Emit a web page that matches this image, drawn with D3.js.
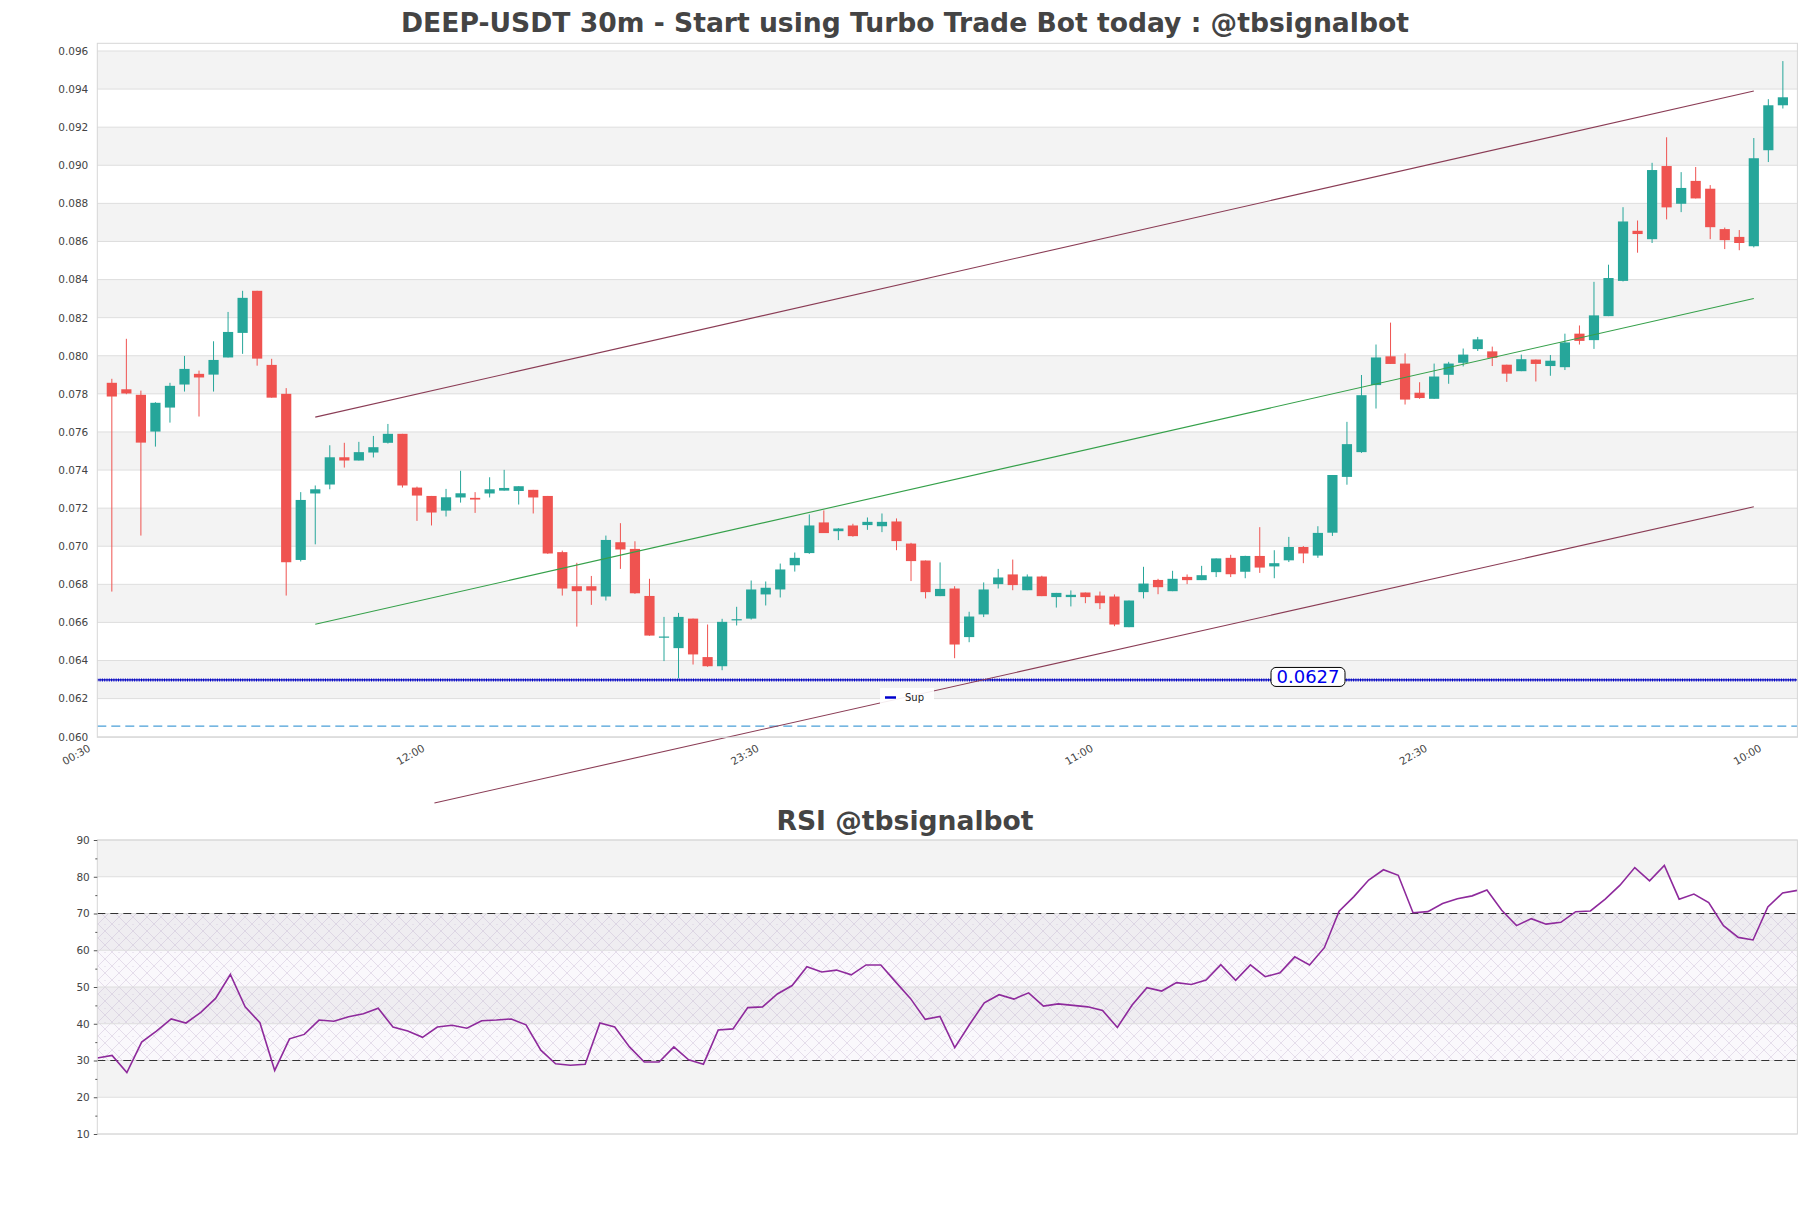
<!DOCTYPE html>
<html>
<head>
<meta charset="utf-8">
<script src="https://cdn.jsdelivr.net/npm/d3@7"></script>
<style>
  html, body { margin: 0; padding: 0; background: #ffffff; }
  svg { display: block; }
  text { font-family: "DejaVu Sans", sans-serif; }
</style>
</head>
<body>
<svg id="chart" width="1811" height="1208"></svg>
<script>
// ---------------- DATA ----------------
const chartTitle = "DEEP-USDT 30m - Start using Turbo Trade Bot today : @tbsignalbot";
const rsiTitle = "RSI @tbsignalbot";

const opens = [0.07858,0.07824,0.07795,0.07602,0.07728,0.07849,0.07905,0.07901,0.07991,0.0812,
0.08341,0.07952,0.078,0.06928,0.07277,0.07324,0.07467,0.0745,0.07492,0.07543,
0.0759,0.07308,0.07264,0.07187,0.07256,0.07254,0.07277,0.07292,0.0729,0.07296,
0.07264,0.06969,0.0679,0.0679,0.06736,0.07021,0.06986,0.06739,0.06522,0.06465,
0.0662,0.06418,0.0637,0.06612,0.0662,0.06747,0.06773,0.069,0.06964,0.07125,
0.07079,0.07109,0.07111,0.07105,0.0713,0.07014,0.06925,0.06738,0.06778,0.06523,
0.06642,0.06801,0.06852,0.06769,0.06841,0.06733,0.06733,0.06757,0.06741,0.06736,
0.06575,0.06759,0.06823,0.06764,0.06839,0.06822,0.06864,0.06939,0.06866,0.06949,
0.06894,0.06926,0.06996,0.06951,0.07071,0.07364,0.07494,0.07846,0.07997,0.07959,
0.07806,0.07774,0.079,0.07963,0.08035,0.08023,0.07953,0.07919,0.0798,0.07946,
0.0794,0.08116,0.08082,0.08208,0.08393,0.08656,0.08612,0.08996,0.08798,0.08918,
0.08877,0.08665,0.08624,0.08575,0.09079,0.09315];
const highs = [0.07879,0.08089,0.07817,0.07756,0.07858,0.07999,0.07922,0.08076,0.0823,0.08341,
0.08341,0.07984,0.0783,0.07284,0.07319,0.0753,0.07543,0.07548,0.07579,0.07642,
0.0759,0.07313,0.07264,0.07301,0.07396,0.07284,0.07362,0.07401,0.07315,0.07296,
0.07264,0.06977,0.06913,0.06844,0.07056,0.07121,0.07026,0.06829,0.06629,0.0665,
0.0662,0.06589,0.06619,0.06682,0.0682,0.06815,0.06909,0.06967,0.07167,0.07188,
0.07095,0.07118,0.07151,0.07172,0.07146,0.07018,0.06925,0.06915,0.0679,0.06656,
0.0681,0.06881,0.0693,0.06852,0.06845,0.06755,0.06768,0.06757,0.06762,0.06747,
0.06715,0.06892,0.06829,0.06871,0.06852,0.06897,0.06936,0.06955,0.0695,0.071,
0.06979,0.07049,0.07001,0.07105,0.07374,0.07653,0.07899,0.08059,0.08174,0.08012,
0.07861,0.07959,0.07968,0.08038,0.08099,0.08048,0.07953,0.08006,0.0798,0.08004,
0.08116,0.08159,0.08388,0.08478,0.0878,0.0871,0.09013,0.09147,0.08964,0.08991,
0.08896,0.08673,0.0866,0.09143,0.09347,0.09547];
const lows = [0.06762,0.07798,0.07056,0.07523,0.07649,0.07812,0.07681,0.07812,0.07991,0.0801,
0.07948,0.0778,0.06741,0.0692,0.0701,0.07299,0.07413,0.0745,0.07466,0.07539,
0.07308,0.07133,0.07109,0.07156,0.07229,0.07175,0.07256,0.07292,0.07219,0.07172,
0.0696,0.06741,0.06578,0.06692,0.06715,0.06881,0.0675,0.0653,0.06397,0.06306,
0.06379,0.06367,0.06349,0.06584,0.06615,0.06689,0.06731,0.06867,0.0696,0.0707,
0.07032,0.0705,0.07086,0.07074,0.06979,0.06817,0.06726,0.06738,0.06412,0.06496,
0.06628,0.06778,0.06769,0.06769,0.06738,0.06678,0.06684,0.06701,0.0667,0.0658,
0.06575,0.06726,0.06748,0.06764,0.06801,0.06822,0.06838,0.06838,0.06832,0.0686,
0.06832,0.06917,0.06911,0.06939,0.07054,0.07323,0.0749,0.07723,0.07957,0.07744,
0.07774,0.07774,0.07853,0.07944,0.08025,0.07946,0.07863,0.07919,0.07865,0.07895,
0.07925,0.08059,0.08036,0.08208,0.0839,0.08541,0.08592,0.08716,0.08754,0.08826,
0.08612,0.0856,0.08554,0.08569,0.09017,0.09298];
const closes = [0.07786,0.07802,0.07544,0.07753,0.07842,0.07931,0.07886,0.07978,0.08125,0.08304,
0.07985,0.0778,0.06916,0.07243,0.07299,0.07467,0.0745,0.07494,0.0752,0.0759,
0.07319,0.07266,0.07177,0.07257,0.07278,0.07245,0.07299,0.07306,0.07315,0.07256,
0.06962,0.06778,0.06764,0.06767,0.07033,0.06983,0.06753,0.06531,0.06526,0.06629,
0.06432,0.0637,0.06603,0.06617,0.06773,0.06782,0.06878,0.06939,0.07109,0.07069,
0.07093,0.07053,0.07128,0.07128,0.07027,0.06922,0.06759,0.06776,0.06484,0.06631,
0.06773,0.06836,0.06796,0.06841,0.06738,0.06755,0.06745,0.06733,0.06701,0.06589,
0.06715,0.06804,0.06785,0.06829,0.06822,0.06848,0.06936,0.06853,0.06949,0.06888,
0.06911,0.06996,0.06962,0.0707,0.07374,0.07536,0.07793,0.07991,0.07957,0.0777,
0.07778,0.07891,0.07959,0.08006,0.08086,0.07989,0.07906,0.07982,0.07957,0.07974,
0.0807,0.08078,0.08212,0.08408,0.08705,0.08639,0.08975,0.08779,0.08881,0.08826,
0.08675,0.08607,0.08592,0.09037,0.09315,0.09357];

const rsiValues = [30.7,31.4,26.7,35.0,38.0,41.3,40.2,43.1,46.9,53.4,
44.6,40.3,27.3,35.9,37.1,41.0,40.7,41.9,42.7,44.2,
39.1,38.0,36.3,39.1,39.6,38.8,40.8,41.0,41.3,39.7,
32.8,29.1,28.7,29.0,40.2,39.1,33.7,29.6,29.6,33.7,
30.2,29.0,38.3,38.6,44.4,44.6,48.1,50.4,55.5,54.1,
54.6,53.3,56.0,56.0,51.4,46.9,41.2,42.0,33.5,39.8,
45.7,47.9,46.7,48.4,44.8,45.4,45.0,44.6,43.6,39.0,
45.1,49.8,48.9,51.2,50.7,51.9,56.1,51.8,56.0,52.8,
53.85,58.2,56.0,60.7,70.65,74.6,79.1,81.9,80.4,70.2,
70.5,72.7,74.0,74.8,76.4,70.9,66.7,68.6,67.1,67.6,
70.5,70.7,73.9,77.7,82.5,78.9,83.1,73.9,75.3,73.0,
66.7,63.5,62.8,71.8,75.6,76.3];

const xTickLabels = ["00:30","12:00","23:30","11:00","22:30","10:00"];
const xTickIndex = [-1, 22, 45, 68, 91, 114];
const priceTicks = [0.060,0.062,0.064,0.066,0.068,0.070,0.072,0.074,0.076,0.078,0.080,0.082,0.084,0.086,0.088,0.090,0.092,0.094,0.096];
const rsiTicks = [10,20,30,40,50,60,70,80,90];
const rsiMinorTicks = [15,25,35,45,55,65,75,85];

// trend lines: [startIndex, startPrice, endIndex, endPrice]
const upperChannel = [14, 0.07678, 113, 0.09390];
const midChannel   = [14, 0.06590, 113, 0.08301];
const lowerChannel = [22.2, 0.05652, 113, 0.07207];

const supportLevel = 0.06298;
const supportLabel = "0.0627";
const supportName = "Sup";
const lowerLevel = 0.06056;
const rsiUpper = 70, rsiLower = 30;

// ---------------- LAYOUT ----------------
const svg = d3.select("#chart");
const W = 1811, H = 1208;
const main = {left: 97.3, right: 1797.4, top: 43.3, bottom: 737.3};
const rsiBox = {left: 97.3, right: 1797.4, top: 840, bottom: 1134};

const x = d3.scaleLinear().domain([-1, 116]).range([main.left, main.right]);
const y = d3.scaleLinear().domain([0.059969, 0.096404]).range([main.bottom, main.top]);
const xr = d3.scaleLinear().domain([0, rsiValues.length - 1]).range([rsiBox.left, rsiBox.right]);
const yr = d3.scaleLinear().domain([10, 90]).range([rsiBox.bottom, rsiBox.top]);

const upColor = "#26a69a", downColor = "#ef5350";
const bandColor = "#f3f3f3", gridColor = "#dedede", borderColor = "#d6d6d6";

svg.append("rect").attr("width", W).attr("height", H).attr("fill", "#fff");

// defs
const defs = svg.append("defs");
defs.append("clipPath").attr("id", "mainClip").append("rect")
  .attr("x", main.left).attr("y", main.top)
  .attr("width", main.right - main.left).attr("height", main.bottom - main.top);
const pat = defs.append("pattern").attr("id", "hatch").attr("patternUnits", "userSpaceOnUse")
  .attr("width", 14).attr("height", 14);
pat.append("path").attr("d", "M0,0 L14,14 M14,0 L0,14")
  .attr("stroke", "#b9a6c9").attr("stroke-width", 0.6).attr("fill", "none").attr("opacity", 0.55);
pat.append("circle").attr("cx", 7).attr("cy", 0).attr("r", 0.6).attr("fill", "#c5b5d2");

// ---------------- MAIN TITLE ----------------
svg.append("text").attr("x", 905).attr("y", 32).attr("text-anchor", "middle")
  .attr("font-size", 26.6).attr("font-weight", "bold").attr("fill", "#444")
  .text(chartTitle);

// ---------------- MAIN PANEL ----------------
const gMain = svg.append("g");
for (let i = 0; i < priceTicks.length - 1; i++) {
  if ((priceTicks.length - 2 - i) % 2 === 0) {
    gMain.append("rect").attr("x", main.left)
      .attr("y", y(priceTicks[i + 1])).attr("width", main.right - main.left)
      .attr("height", y(priceTicks[i]) - y(priceTicks[i + 1])).attr("fill", bandColor);
  }
}
gMain.selectAll("line.grid").data(priceTicks).join("line").attr("class", "grid")
  .attr("x1", main.left).attr("x2", main.right)
  .attr("y1", d => y(d)).attr("y2", d => y(d))
  .attr("stroke", gridColor).attr("stroke-width", 1);

const yAxis = d3.axisLeft(y).tickValues(priceTicks).tickFormat(d3.format(".3f")).tickSize(0).tickPadding(9);
const gy = svg.append("g").attr("transform", `translate(${main.left},0)`).call(yAxis);
gy.select(".domain").remove();
gy.selectAll("text").attr("font-size", 10.5).attr("fill", "#444").attr("font-family", "DejaVu Sans");

// candles
const candles = opens.map((o, i) => ({i, o, h: highs[i], l: lows[i], c: closes[i]}));
const bodyW = 10.2;
const gC = gMain.append("g").attr("clip-path", "url(#mainClip)");
gC.selectAll("line.wick").data(candles).join("line").attr("class", "wick")
  .attr("x1", d => x(d.i)).attr("x2", d => x(d.i))
  .attr("y1", d => y(d.h)).attr("y2", d => y(d.l))
  .attr("stroke", d => d.c >= d.o ? upColor : downColor).attr("stroke-width", 1);
gC.selectAll("rect.body").data(candles).join("rect").attr("class", "body")
  .attr("x", d => x(d.i) - bodyW / 2).attr("width", bodyW)
  .attr("y", d => y(Math.max(d.o, d.c)))
  .attr("height", d => Math.max(1.2, Math.abs(y(d.o) - y(d.c))))
  .attr("fill", d => d.c >= d.o ? upColor : downColor);

// support line & dashed level
svg.append("line").attr("x1", main.left).attr("x2", main.right)
  .attr("y1", y(lowerLevel)).attr("y2", y(lowerLevel))
  .attr("stroke", "#4a9fd8").attr("stroke-width", 1.3).attr("stroke-dasharray", "9,5");
svg.append("line").attr("x1", main.left).attr("x2", main.right)
  .attr("y1", y(supportLevel)).attr("y2", y(supportLevel))
  .attr("stroke", "#1010b0").attr("stroke-width", 1.2);
svg.append("line").attr("x1", main.left).attr("x2", main.right)
  .attr("y1", y(supportLevel)).attr("y2", y(supportLevel))
  .attr("stroke", "#0000cc").attr("stroke-width", 3).attr("stroke-dasharray", "1,1.3");

// trend lines (not clipped)
function trend(p, color) {
  svg.append("line").attr("x1", x(p[0])).attr("y1", y(p[1]))
    .attr("x2", x(p[2])).attr("y2", y(p[3]))
    .attr("stroke", color).attr("stroke-width", 1.1);
}
trend(upperChannel, "#8a3c55");
trend(midChannel, "#35a04a");
trend(lowerChannel, "#8a3c55");

// legend
const lg = svg.append("g").attr("transform", `translate(880,688)`);
lg.append("rect").attr("width", 54).attr("height", 17).attr("fill", "#fff").attr("opacity", 0.9);
lg.append("line").attr("x1", 5).attr("x2", 16).attr("y1", 9.5).attr("y2", 9.5)
  .attr("stroke", "#0000cc").attr("stroke-width", 2.5);
lg.append("text").attr("x", 25).attr("y", 13).attr("font-size", 10).attr("fill", "#222").text(supportName);

// support label box
const lbX = 1308, lbY = y(supportLevel) - 3;
const lb = svg.append("g").attr("transform", `translate(${lbX},${lbY})`);
lb.append("rect").attr("x", -37).attr("y", -9.5).attr("width", 74).attr("height", 19)
  .attr("rx", 5).attr("fill", "#fff").attr("stroke", "#000").attr("stroke-width", 1);
lb.append("text").attr("x", 0).attr("y", 6.5).attr("text-anchor", "middle")
  .attr("font-size", 18).attr("fill", "#0000ee").text(supportLabel);

// border
svg.append("rect").attr("x", main.left).attr("y", main.top)
  .attr("width", main.right - main.left).attr("height", main.bottom - main.top)
  .attr("fill", "none").attr("stroke", borderColor).attr("stroke-width", 1);

// x labels
const gx = svg.append("g");
xTickIndex.forEach((idx, k) => {
  gx.append("text").attr("transform", `translate(${x(idx) - 6},${main.bottom + 13}) rotate(-30)`)
    .attr("text-anchor", "end").attr("font-size", 10.5).attr("fill", "#444").text(xTickLabels[k]);
});

// ---------------- RSI PANEL ----------------
svg.append("text").attr("x", 905).attr("y", 830).attr("text-anchor", "middle")
  .attr("font-size", 26.6).attr("font-weight", "bold").attr("fill", "#444").text(rsiTitle);

const gR = svg.append("g");
for (let v = 20; v <= 80; v += 20) {
  gR.append("rect").attr("x", rsiBox.left).attr("y", yr(v + 10))
    .attr("width", rsiBox.right - rsiBox.left).attr("height", yr(v) - yr(v + 10)).attr("fill", bandColor);
}
gR.append("rect").attr("x", rsiBox.left).attr("y", yr(rsiUpper))
  .attr("width", rsiBox.right - rsiBox.left).attr("height", yr(rsiLower) - yr(rsiUpper))
  .attr("fill", "#d8c8e4").attr("opacity", 0.12);
gR.append("rect").attr("x", rsiBox.left).attr("y", yr(rsiUpper))
  .attr("width", rsiBox.right - rsiBox.left).attr("height", yr(rsiLower) - yr(rsiUpper))
  .attr("fill", "url(#hatch)");
gR.selectAll("line.grid").data(rsiTicks).join("line").attr("class", "grid")
  .attr("x1", rsiBox.left).attr("x2", rsiBox.right)
  .attr("y1", d => yr(d)).attr("y2", d => yr(d))
  .attr("stroke", gridColor).attr("stroke-width", 1);
[rsiUpper, rsiLower].forEach(v => {
  gR.append("line").attr("x1", rsiBox.left).attr("x2", rsiBox.right)
    .attr("y1", yr(v)).attr("y2", yr(v))
    .attr("stroke", "#333").attr("stroke-width", 1.1).attr("stroke-dasharray", "8,5");
});
gR.append("path").datum(rsiValues)
  .attr("d", d3.line().x((d, i) => xr(i)).y(d => yr(d)))
  .attr("fill", "none").attr("stroke", "#8e2a9c").attr("stroke-width", 1.6);
gR.append("rect").attr("x", rsiBox.left).attr("y", rsiBox.top)
  .attr("width", rsiBox.right - rsiBox.left).attr("height", rsiBox.bottom - rsiBox.top)
  .attr("fill", "none").attr("stroke", borderColor).attr("stroke-width", 1);

const ryAxis = d3.axisLeft(yr).tickValues(rsiTicks).tickSize(3.5).tickPadding(4);
const gry = svg.append("g").attr("transform", `translate(${rsiBox.left},0)`).call(ryAxis);
gry.select(".domain").remove();
gry.selectAll("line").attr("stroke", "#555");
gry.selectAll("text").attr("font-size", 10.5).attr("fill", "#444").attr("font-family", "DejaVu Sans");
const rmAxis = d3.axisLeft(yr).tickValues(rsiMinorTicks).tickSize(2).tickFormat("");
const grm = svg.append("g").attr("transform", `translate(${rsiBox.left},0)`).call(rmAxis);
grm.select(".domain").remove();
grm.selectAll("line").attr("stroke", "#555");
</script>
</body>
</html>
